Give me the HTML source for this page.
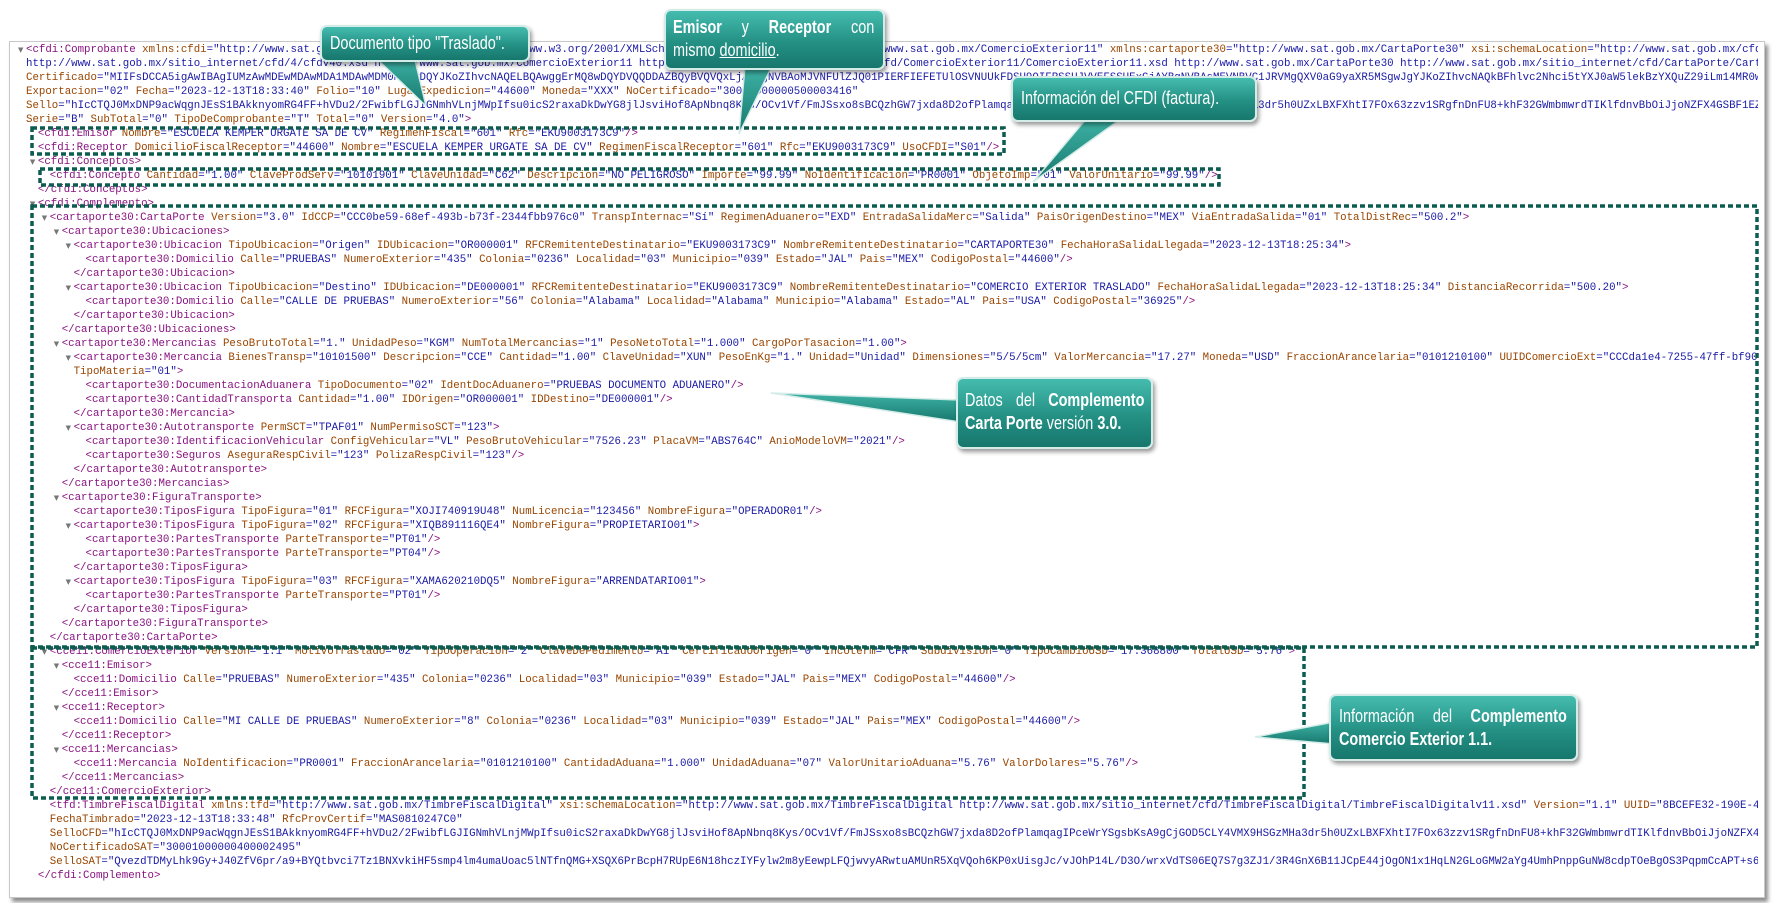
<!DOCTYPE html>
<html><head><meta charset="utf-8">
<style>
html,body{margin:0;padding:0;background:#fff;}
body{width:1773px;height:903px;position:relative;overflow:hidden;}
#panel{position:absolute;left:9px;top:41px;width:1754px;height:855px;border:1px solid #c8c8c8;background:#fff;box-shadow:3px 4px 4px rgba(0,0,0,0.45);}
#clip{position:absolute;left:10px;top:42px;width:1748px;height:852px;overflow:hidden;}
.l{position:absolute;white-space:pre;font-family:"Liberation Mono",monospace;font-size:10.75px;line-height:14px;height:14px;color:#881280;}
.l .a{color:#994500}.l .v{color:#1a1aa6}
.l.cv{color:#1a1aa6}
.tri{position:absolute;font-size:7px;color:#777;font-family:"DejaVu Sans",sans-serif;line-height:14px;}
svg{position:absolute;left:0;top:0;}
.co{position:absolute;border-radius:7px;border:2px solid #d4ece8;background:linear-gradient(#45bcaf,#249084 55%,#17776d);box-shadow:2px 3px 4px rgba(0,0,0,0.4);color:#fff;overflow:hidden;}
.co .t{position:absolute;transform:scaleX(0.78);transform-origin:0 0;font-family:"Liberation Sans",sans-serif;font-size:18.5px;line-height:23px;white-space:nowrap;}
.co .j{text-align:justify;text-align-last:justify;white-space:normal;}
.co b{font-weight:bold}
</style></head><body>
<div id="panel"></div>
<div id="clip"></div>
<svg width="1773" height="903">
<g fill="none" stroke="#0d5c50" stroke-width="3.5" stroke-dasharray="5 3">
<rect x="32" y="128" width="972" height="26"/>
<rect x="40" y="169" width="1179" height="16"/>
<rect x="32" y="206" width="1725" height="441"/>
<rect x="32" y="648" width="1272" height="150"/>
</g>
<defs><linearGradient id="g" x1="0" y1="0" x2="0" y2="1"><stop offset="0" stop-color="#3fb3a6"/><stop offset="1" stop-color="#17776d"/></linearGradient></defs>
<g fill="url(#g)" stroke="#d4ece8" stroke-width="1.5">
<polygon points="374,56 414,56 426,106"/>
<polygon points="745,66 772,66 739,134"/>
<polygon points="1087,118 1122,118 1033,182"/>
<polygon points="960,400 960,422 771,393"/>
<polygon points="1334,722 1334,744 1255,737"/>
</g>
</svg>
<div class="co" style="left:320px;top:25px;width:206px;height:33px;"><div class="t" style="left:8px;top:4px;">Documento tipo "Traslado".</div></div>
<div class="co" style="left:664px;top:9px;width:217px;height:57px;"><div class="t" style="left:7px;top:4px;width:258px;"><div class="j"><b>Emisor</b> y <b>Receptor</b> con</div><div>mismo <u>domicilio</u>.</div></div></div>
<div class="co" style="left:1011px;top:76px;width:242px;height:42px;"><div class="t" style="left:8px;top:8px;">Información del CFDI (factura).</div></div>
<div class="co" style="left:956px;top:377px;width:193px;height:68px;"><div class="t" style="left:7px;top:9px;width:230px;"><div class="j">Datos del <b>Complemento</b></div><div><b>Carta Porte</b> versión <b>3.0.</b></div></div></div>
<div class="co" style="left:1329px;top:694px;width:245px;height:63px;"><div class="t" style="left:8px;top:8px;width:292px;"><div class="j">Información del <b>Complemento</b></div><div><b>Comercio Exterior 1.1.</b></div></div></div>
<script>
var L=[
[0,1,'<cfdi:Comprobante xmlns:cfdi="http://www.sat.gob.mx/cfd/4" xmlns:xsi="http://www.w3.org/2001/XMLSchema-instance" xmlns:cce11="http://www.sat.gob.mx/ComercioExterior11" xmlns:cartaporte30="http://www.sat.gob.mx/CartaPorte30" xsi:schemaLocation="http://www.sat.gob.mx/cfd/4 '],
[0,0,'http://www.sat.gob.mx/sitio_internet/cfd/4/cfdv40.xsd http://www.sat.gob.mx/ComercioExterior11 http://www.sat.gob.mx/sitio_internet/cfd/ComercioExterior11/ComercioExterior11.xsd http://www.sat.gob.mx/CartaPorte30 http://www.sat.gob.mx/sitio_internet/cfd/CartaPorte/CartaPorte30.xsd"','cv'],
[0,0,'Certificado="MIIFsDCCA5igAwIBAgIUMzAwMDEwMDAwMDA1MDAwMDM0MTYwDQYJKoZIhvcNAQELBQAwggErMQ8wDQYDVQQDDAZBQyBVQVQxLjAsBgNVBAoMJVNFUlZJQ01PIERFIEFETUlOSVNUUkFDSU9OIFRSSUJVVEFSSUExGjAYBgNVBAsMEVNBVC1JRVMgQXV0aG9yaXR5MSgwJgYJKoZIhvcNAQkBFhlvc2Nhci5tYXJ0aW5lekBzYXQuZ29iLm14MR0wGwYDVQQJDBQzcmEgY2VycmFkYSBkZSBjYWxpejEOMAwG'],
[0,0,'Exportacion="02" Fecha="2023-12-13T18:33:40" Folio="10" LugarExpedicion="44600" Moneda="XXX" NoCertificado="30001000000500003416"'],
[0,0,'Sello="hIcCTQJ0MxDNP9acWqgnJEsS1BAkknyomRG4FF+hVDu2/2FwibfLGJIGNmhVLnjMWpIfsu0icS2raxaDkDwYG8jlJsviHof8ApNbnq8Kys/OCv1Vf/FmJSsxo8sBCQzhGW7jxda8D2ofPlamqagIPceWrYSgsbKsA9gCjGOD5CLY4VMX9HSGzMHa3dr5h0UZxLBXFXhtI7FOx63zzv1SRgfnDnFU8+khF32GWmbmwrdTIKlfdnvBbOiJjoNZFX4GSBF1EZab'],
[0,0,'Serie="B" SubTotal="0" TipoDeComprobante="T" Total="0" Version="4.0">'],
[1,0,'<cfdi:Emisor Nombre="ESCUELA KEMPER URGATE SA DE CV" RegimenFiscal="601" Rfc="EKU9003173C9"/>'],
[1,0,'<cfdi:Receptor DomicilioFiscalReceptor="44600" Nombre="ESCUELA KEMPER URGATE SA DE CV" RegimenFiscalReceptor="601" Rfc="EKU9003173C9" UsoCFDI="S01"/>'],
[1,1,'<cfdi:Conceptos>'],
[2,0,'<cfdi:Concepto Cantidad="1.00" ClaveProdServ="10101901" ClaveUnidad="C62" Descripcion="NO PELIGROSO" Importe="99.99" NoIdentificacion="PR0001" ObjetoImp="01" ValorUnitario="99.99"/>'],
[1,0,'</cfdi:Conceptos>'],
[1,1,'<cfdi:Complemento>'],
[2,1,'<cartaporte30:CartaPorte Version="3.0" IdCCP="CCC0be59-68ef-493b-b73f-2344fbb976c0" TranspInternac="Sí" RegimenAduanero="EXD" EntradaSalidaMerc="Salida" PaisOrigenDestino="MEX" ViaEntradaSalida="01" TotalDistRec="500.2">'],
[3,1,'<cartaporte30:Ubicaciones>'],
[4,1,'<cartaporte30:Ubicacion TipoUbicacion="Origen" IDUbicacion="OR000001" RFCRemitenteDestinatario="EKU9003173C9" NombreRemitenteDestinatario="CARTAPORTE30" FechaHoraSalidaLlegada="2023-12-13T18:25:34">'],
[5,0,'<cartaporte30:Domicilio Calle="PRUEBAS" NumeroExterior="435" Colonia="0236" Localidad="03" Municipio="039" Estado="JAL" Pais="MEX" CodigoPostal="44600"/>'],
[4,0,'</cartaporte30:Ubicacion>'],
[4,1,'<cartaporte30:Ubicacion TipoUbicacion="Destino" IDUbicacion="DE000001" RFCRemitenteDestinatario="EKU9003173C9" NombreRemitenteDestinatario="COMERCIO EXTERIOR TRASLADO" FechaHoraSalidaLlegada="2023-12-13T18:25:34" DistanciaRecorrida="500.20">'],
[5,0,'<cartaporte30:Domicilio Calle="CALLE DE PRUEBAS" NumeroExterior="56" Colonia="Alabama" Localidad="Alabama" Municipio="Alabama" Estado="AL" Pais="USA" CodigoPostal="36925"/>'],
[4,0,'</cartaporte30:Ubicacion>'],
[3,0,'</cartaporte30:Ubicaciones>'],
[3,1,'<cartaporte30:Mercancias PesoBrutoTotal="1." UnidadPeso="KGM" NumTotalMercancias="1" PesoNetoTotal="1.000" CargoPorTasacion="1.00">'],
[4,1,'<cartaporte30:Mercancia BienesTransp="10101500" Descripcion="CCE" Cantidad="1.00" ClaveUnidad="XUN" PesoEnKg="1." Unidad="Unidad" Dimensiones="5/5/5cm" ValorMercancia="17.27" Moneda="USD" FraccionArancelaria="0101210100" UUIDComercioExt="CCCda1e4-7255-47ff-bf90-2a1b'],
[4,0,'TipoMateria="01">'],
[5,0,'<cartaporte30:DocumentacionAduanera TipoDocumento="02" IdentDocAduanero="PRUEBAS DOCUMENTO ADUANERO"/>'],
[5,0,'<cartaporte30:CantidadTransporta Cantidad="1.00" IDOrigen="OR000001" IDDestino="DE000001"/>'],
[4,0,'</cartaporte30:Mercancia>'],
[4,1,'<cartaporte30:Autotransporte PermSCT="TPAF01" NumPermisoSCT="123">'],
[5,0,'<cartaporte30:IdentificacionVehicular ConfigVehicular="VL" PesoBrutoVehicular="7526.23" PlacaVM="ABS764C" AnioModeloVM="2021"/>'],
[5,0,'<cartaporte30:Seguros AseguraRespCivil="123" PolizaRespCivil="123"/>'],
[4,0,'</cartaporte30:Autotransporte>'],
[3,0,'</cartaporte30:Mercancias>'],
[3,1,'<cartaporte30:FiguraTransporte>'],
[4,0,'<cartaporte30:TiposFigura TipoFigura="01" RFCFigura="XOJI740919U48" NumLicencia="123456" NombreFigura="OPERADOR01"/>'],
[4,1,'<cartaporte30:TiposFigura TipoFigura="02" RFCFigura="XIQB891116QE4" NombreFigura="PROPIETARIO01">'],
[5,0,'<cartaporte30:PartesTransporte ParteTransporte="PT01"/>'],
[5,0,'<cartaporte30:PartesTransporte ParteTransporte="PT04"/>'],
[4,0,'</cartaporte30:TiposFigura>'],
[4,1,'<cartaporte30:TiposFigura TipoFigura="03" RFCFigura="XAMA620210DQ5" NombreFigura="ARRENDATARIO01">'],
[5,0,'<cartaporte30:PartesTransporte ParteTransporte="PT01"/>'],
[4,0,'</cartaporte30:TiposFigura>'],
[3,0,'</cartaporte30:FiguraTransporte>'],
[2,0,'</cartaporte30:CartaPorte>'],
[2,1,'<cce11:ComercioExterior Version="1.1" MotivoTraslado="02" TipoOperacion="2" ClaveDePedimento="A1" CertificadoOrigen="0" Incoterm="CFR" Subdivision="0" TipoCambioUSD="17.368800" TotalUSD="5.76">'],
[3,1,'<cce11:Emisor>'],
[4,0,'<cce11:Domicilio Calle="PRUEBAS" NumeroExterior="435" Colonia="0236" Localidad="03" Municipio="039" Estado="JAL" Pais="MEX" CodigoPostal="44600"/>'],
[3,0,'</cce11:Emisor>'],
[3,1,'<cce11:Receptor>'],
[4,0,'<cce11:Domicilio Calle="MI CALLE DE PRUEBAS" NumeroExterior="8" Colonia="0236" Localidad="03" Municipio="039" Estado="JAL" Pais="MEX" CodigoPostal="44600"/>'],
[3,0,'</cce11:Receptor>'],
[3,1,'<cce11:Mercancias>'],
[4,0,'<cce11:Mercancia NoIdentificacion="PR0001" FraccionArancelaria="0101210100" CantidadAduana="1.000" UnidadAduana="07" ValorUnitarioAduana="5.76" ValorDolares="5.76"/>'],
[3,0,'</cce11:Mercancias>'],
[2,0,'</cce11:ComercioExterior>'],
[2,0,'<tfd:TimbreFiscalDigital xmlns:tfd="http://www.sat.gob.mx/TimbreFiscalDigital" xsi:schemaLocation="http://www.sat.gob.mx/TimbreFiscalDigital http://www.sat.gob.mx/sitio_internet/cfd/TimbreFiscalDigital/TimbreFiscalDigitalv11.xsd" Version="1.1" UUID="8BCEFE32-190E-4A1B'],
[2,0,'FechaTimbrado="2023-12-13T18:33:48" RfcProvCertif="MAS0810247C0"'],
[2,0,'SelloCFD="hIcCTQJ0MxDNP9acWqgnJEsS1BAkknyomRG4FF+hVDu2/2FwibfLGJIGNmhVLnjMWpIfsu0icS2raxaDkDwYG8jlJsviHof8ApNbnq8Kys/OCv1Vf/FmJSsxo8sBCQzhGW7jxda8D2ofPlamqagIPceWrYSgsbKsA9gCjGOD5CLY4VMX9HSGzMHa3dr5h0UZxLBXFXhtI7FOx63zzv1SRgfnDnFU8+khF32GWmbmwrdTIKlfdnvBbOiJjoNZFX4GSBF'],
[2,0,'NoCertificadoSAT="30001000000400002495"'],
[2,0,'SelloSAT="QvezdTDMyLhk9Gy+J40ZfV6pr/a9+BYQtbvci7Tz1BNXvkiHF5smp4lm4umaUoac5lNTfnQMG+XSQX6PrBcpH7RUpE6N18hczIYFylw2m8yEewpLFQjwvyARwtuAMUnR5XqVQoh6KP0xUisgJc/vJOhP14L/D3O/wrxVdTS06EQ7S7g3ZJ1/3R4GnX6B11JCpE44jOgON1x1HqLN2GLoGMW2aYg4UmhPnppGuNW8cdpTOeBgOS3PqpmCcAPT+s6'],
[1,0,'</cfdi:Complemento>']
];
function esc(s){return s.replace(/&/g,'&amp;').replace(/</g,'&lt;').replace(/>/g,'&gt;');}
function color(s){
 var re=/(<\/?[\w:]+)|(\/?>)|([\w:]+)(=)("[^"]*"?)|(\s+)|([^\s]+)/g,m,o='';
 while((m=re.exec(s))){
  if(m[1])o+=esc(m[1]);
  else if(m[2])o+=esc(m[2]);
  else if(m[3])o+='<span class="a">'+esc(m[3])+'</span><span class="v">='+esc(m[5])+'</span>';
  else if(m[6])o+=m[6];
  else o+='<span class="v">'+esc(m[7])+'</span>';
 }
 return o;
}
var out='';
for(var i=0;i<L.length;i++){
 var lv=L[i][0],x=16+lv*11.9,y=1+i*14.0,t=L[i][2];
 if(L[i][1])out+='<div class="tri" style="left:'+(x-8)+'px;top:'+y+'px">&#9660;</div>';
 if(L[i][3]==='cv')out+='<div class="l cv" style="left:'+x+'px;top:'+y+'px">'+esc(t)+'</div>';
 else out+='<div class="l" style="left:'+x+'px;top:'+y+'px">'+color(t)+'</div>';
}
document.getElementById('clip').innerHTML=out;
</script>
</body></html>
